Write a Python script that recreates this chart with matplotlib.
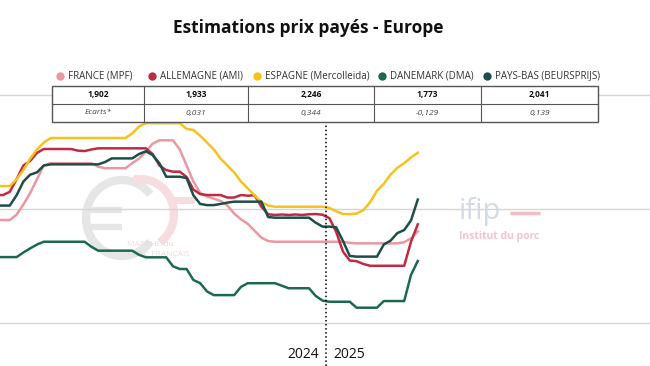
import numpy as np
import matplotlib
matplotlib.use("Agg")
import matplotlib.pyplot as plt
from matplotlib.patches import Arc, Rectangle

plt.rcParams['font.family'] = ['Open Sans', 'DejaVu Sans']

# weeks: 2024 w1..w52 then 2025 w1..w14 (t = 1..66)
weeks = np.arange(1, 67)

france = [1.952, 1.952, 1.952, 1.952, 1.952, 1.952, 1.975, 2.02, 2.07, 2.13,
          2.19, 2.20, 2.20, 2.20, 2.20, 2.20, 2.20, 2.20, 2.185, 2.178,
          2.178, 2.178, 2.178, 2.20, 2.22, 2.25, 2.285, 2.30, 2.30, 2.30,
          2.26, 2.19, 2.12, 2.07, 2.055, 2.045, 2.035, 2.015, 1.98, 1.955,
          1.935, 1.905, 1.875, 1.86, 1.857, 1.857, 1.857, 1.857, 1.857, 1.857,
          1.857, 1.857, 1.857, 1.857, 1.857, 1.852, 1.85, 1.85, 1.85, 1.85,
          1.85, 1.85, 1.85, 1.855, 1.872, 1.902]

allemagne = [2.061, 2.061, 2.061, 2.061, 2.061, 2.075, 2.13, 2.19, 2.21, 2.245,
             2.262, 2.262, 2.262, 2.262, 2.262, 2.255, 2.253, 2.26, 2.265, 2.265,
             2.265, 2.265, 2.265, 2.265, 2.265, 2.265, 2.24, 2.19, 2.17, 2.163,
             2.163, 2.14, 2.085, 2.065, 2.061, 2.061, 2.061, 2.05, 2.05, 2.061,
             2.058, 2.06, 2.01, 1.977, 1.974, 1.976, 1.974, 1.976, 1.974, 1.977,
             1.978, 1.975, 1.96, 1.90, 1.814, 1.775, 1.772, 1.76, 1.752, 1.752,
             1.752, 1.752, 1.752, 1.752, 1.857, 1.933]

espagne = [2.10, 2.10, 2.10, 2.10, 2.10, 2.10, 2.13, 2.17, 2.22, 2.26,
           2.29, 2.31, 2.31, 2.31, 2.31, 2.31, 2.31, 2.31, 2.31, 2.31,
           2.31, 2.31, 2.31, 2.33, 2.36, 2.375, 2.375, 2.375, 2.375, 2.375,
           2.375, 2.35, 2.345, 2.32, 2.29, 2.26, 2.22, 2.19, 2.16, 2.12,
           2.09, 2.06, 2.03, 2.015, 2.01, 2.01, 2.01, 2.01, 2.01, 2.01,
           2.01, 2.01, 2.005, 1.99, 1.978, 1.978, 1.98, 1.995, 2.03, 2.08,
           2.11, 2.15, 2.18, 2.20, 2.225, 2.246]

danemark = [1.79, 1.79, 1.79, 1.79, 1.79, 1.79, 1.79, 1.81, 1.828, 1.845,
            1.857, 1.857, 1.857, 1.857, 1.857, 1.857, 1.857, 1.835, 1.818, 1.818,
            1.818, 1.818, 1.818, 1.818, 1.80, 1.789, 1.789, 1.789, 1.789, 1.75,
            1.738, 1.738, 1.69, 1.676, 1.64, 1.624, 1.624, 1.624, 1.624, 1.66,
            1.676, 1.676, 1.676, 1.676, 1.676, 1.665, 1.654, 1.654, 1.654, 1.654,
            1.62, 1.60, 1.595, 1.595, 1.595, 1.595, 1.569, 1.569, 1.569, 1.569,
            1.598, 1.598, 1.598, 1.598, 1.712, 1.773]

paysbas = [2.015, 2.015, 2.015, 2.015, 2.015, 2.015, 2.06, 2.12, 2.15, 2.16,
           2.19, 2.195, 2.195, 2.195, 2.195, 2.195, 2.195, 2.195, 2.195, 2.205,
           2.221, 2.221, 2.221, 2.221, 2.24, 2.252, 2.236, 2.20, 2.141, 2.141,
           2.141, 2.135, 2.06, 2.022, 2.017, 2.017, 2.022, 2.028, 2.032, 2.032,
           2.032, 2.032, 2.032, 1.965, 1.962, 1.962, 1.962, 1.962, 1.962, 1.962,
           1.94, 1.923, 1.923, 1.92, 1.86, 1.795, 1.792, 1.792, 1.792, 1.792,
           1.845, 1.862, 1.895, 1.908, 1.95, 2.041]

labels = ['FRANCE (MPF)', 'ALLEMAGNE (AMI)', 'ESPAGNE (Mercolleida)',
          'DANEMARK (DMA)', 'PAYS-BAS (BEURSPRIJS)']
colors = ['#ec97a2', '#c12a43', '#f7c21c', '#1c6a4d', '#1d4f49']
last_values = ['1,902', '1,933', '2,246', '1,773', '2,041']
ecarts = ['0,031', '0,344', '-0,129', '0,139']
year_labels = ['2024', '2025']

fig = plt.figure(figsize=(6.5, 3.66), dpi=100)

# background axes (pixel coords) for the watermark logos
bg = fig.add_axes([0, 0, 1, 1], zorder=0)
bg.set_xlim(0, 650)
bg.set_ylim(366, 0)
bg.axis('off')

# euro logo (grey C + bars, pink arc)
bg.add_patch(Arc((122, 218), 72, 76, theta1=40, theta2=320, color='#e6e6e6', lw=6))
bg.plot([84, 122], [210, 210], color='#e6e6e6', lw=4.5, solid_capstyle='butt')
bg.plot([84, 122], [227, 227], color='#e6e6e6', lw=4.5, solid_capstyle='butt')
bg.add_patch(Arc((140, 214), 68, 70, theta1=-100, theta2=55, color='#f7dde0', lw=6))
bg.plot([170, 192], [200, 200], color='#f7dde0', lw=5, solid_capstyle='round')
bg.text(127, 244, 'MARCHÉ du', fontsize=6, color='#eedadd', va='center')
bg.text(127, 255, 'PORC FRANÇAIS', fontsize=6, color='#eedadd', va='center')

# ifip logo
bg.text(459, 212, 'ifip', fontsize=21, color='#d3dbe5', va='center', ha='left')
bg.plot([510, 540], [213, 213], color='#f2bcc4', lw=2.5, solid_capstyle='butt')
bg.text(459, 236, 'Institut du porc', fontsize=7.5, color='#f3c3ca',
        fontweight='bold', va='center', ha='left')

# main data axes
ax = fig.add_axes([0, 0, 1, 1], zorder=1)
ax.patch.set_alpha(0)
ax.set_xlim(4.56, 100.15)
ax.set_ylim(1.3144, 2.9127)
ax.axis('off')

for g in [1.5, 2.0, 2.5]:
    ax.axhline(g, color='#d6d6d6', lw=1, zorder=1)

series = [france, allemagne, espagne, danemark, paysbas]
for vals, col in zip(series, colors):
    ax.plot(weeks, vals, color=col, lw=1.8, zorder=3)

# 2024 / 2025 separator
ax.axvline(52.5, ymin=0, ymax=0.667, color='black', ls=':', lw=1.1, zorder=4)

# top overlay axes (pixel coords) for title, legend, table, years
ov = fig.add_axes([0, 0, 1, 1], zorder=2)
ov.patch.set_alpha(0)
ov.set_xlim(0, 650)
ov.set_ylim(366, 0)
ov.axis('off')

ov.text(308, 28, 'Estimations prix payés - Europe', fontsize=12.5,
        fontweight='bold', ha='center', va='center', color='#111111')

# legend
dot_x = [60, 152, 257, 382, 487]
for dx, lab, col in zip(dot_x, labels, colors):
    ov.plot(dx, 76, 'o', color=col, ms=6, mec='none')
    ov.text(dx + 8, 76, lab, fontsize=7, color='#333333', va='center', ha='left')

# table
cols = [52, 144, 248, 374, 481, 598]
top, mid, bot = 86, 104, 122
ov.add_patch(Rectangle((cols[0], top), cols[-1] - cols[0], bot - top,
                       facecolor='white', edgecolor='#555555', lw=1, zorder=5))
ov.plot([cols[0], cols[-1]], [mid, mid], color='#555555', lw=0.8, zorder=6)
for cx in cols[1:-1]:
    ov.plot([cx, cx], [top, bot], color='#555555', lw=0.8, zorder=6)
centers = [(cols[i] + cols[i + 1]) / 2 for i in range(5)]
for cx, v in zip(centers, last_values):
    ov.text(cx, (top + mid) / 2, v, fontsize=6, fontweight='bold',
            ha='center', va='center', color='#111111', zorder=7)
row2 = ['Ecarts*'] + ecarts
for cx, v in zip(centers, row2):
    ov.text(cx, (mid + bot) / 2, v, fontsize=6, style='italic',
            ha='center', va='center', color='#444444', zorder=7)

# year labels
ov.text(319, 355, year_labels[0], fontsize=10, ha='right', va='center', color='#111111')
ov.text(333, 355, year_labels[1], fontsize=10, ha='left', va='center', color='#111111')

fig.savefig('out.png', dpi=100)
